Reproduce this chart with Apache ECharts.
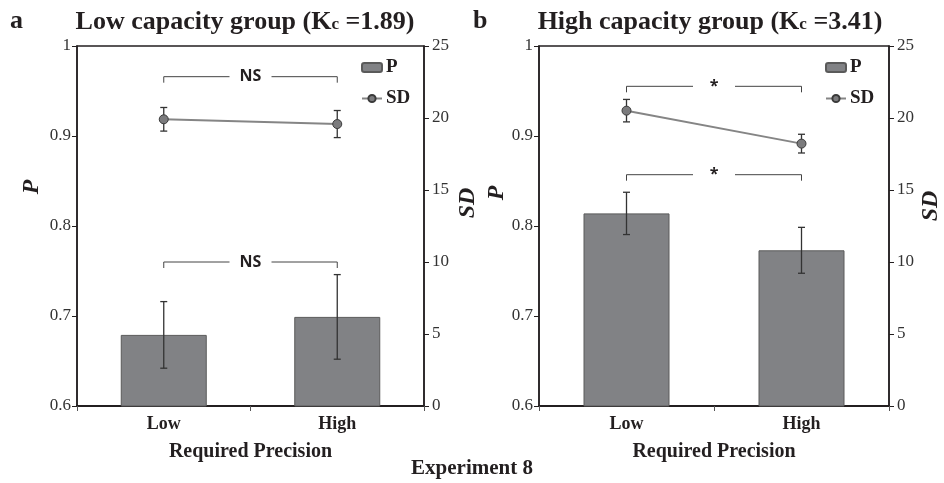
<!DOCTYPE html>
<html><head><meta charset="utf-8">
<script src="https://cdn.jsdelivr.net/npm/echarts@6/dist/echarts.min.js"></script>
<style>html,body{margin:0;padding:0;background:#fff}#c{width:944px;height:483px}</style>
</head><body><div id="c"></div>
<script>
// ---- data ----
const categories = ['Low', 'High'];
const pA = [0.679, 0.699];
const pErrA = [0.037, 0.047];
const sdA = [19.91, 19.58];
const sdErrA = [0.82, 0.94];
const pB = [0.814, 0.773];
const pErrB = [0.0235, 0.0255];
const sdB = [20.51, 18.22];
const sdErrB = [0.78, 0.65];
const pTickLabels = ['0.6', '0.7', '0.8', '0.9', '1'];
const sdTickLabels = ['0', '5', '10', '15', '20', '25'];
// significance brackets: [level on SD axis, level on P axis]
const bracketSdA = 22.87, bracketPA = 0.760, bracketTextA = ['NS', 'NS'];
const bracketSdB = 22.2, bracketPB = 0.857, bracketTextB = ['*', '*'];

const SERIF = '"Liberation Serif", "Times New Roman", serif';
const INK = '#231f20';

function pAxis(gi) {
  return {
    type: 'value', gridIndex: gi, position: 'left', min: 0.6, max: 1, interval: 0.1,
    axisLine: { show: true, lineStyle: { color: INK, width: 1.5 } },
    axisTick: { show: true, length: 5, lineStyle: { color: INK } },
    splitLine: { show: false },
    axisLabel: { fontFamily: SERIF, fontSize: 17, color: '#333', margin: 6,
      formatter: v => pTickLabels[Math.round((v - 0.6) * 10)] }
  };
}
function sdAxis(gi) {
  return {
    type: 'value', gridIndex: gi, position: 'right', min: 0, max: 25, interval: 5,
    axisLine: { show: true, lineStyle: { color: INK, width: 1.5 } },
    axisTick: { show: true, length: 5, lineStyle: { color: INK } },
    splitLine: { show: false },
    axisLabel: { fontFamily: SERIF, fontSize: 17, color: '#333', margin: 8,
      formatter: v => sdTickLabels[Math.round(v / 5)] }
  };
}
function xAxis(gi) {
  return {
    type: 'category', gridIndex: gi, data: categories,
    axisLine: { show: true, lineStyle: { color: INK, width: 2 } },
    axisTick: { show: true, length: 5, lineStyle: { color: '#555' } },
    axisLabel: { fontFamily: SERIF, fontSize: 18, fontWeight: 'bold', color: INK, margin: 9 },
    name: 'Required Precision', nameLocation: 'middle', nameGap: 36,
    nameTextStyle: { fontFamily: SERIF, fontSize: 20, fontWeight: 'bold', color: INK }
  };
}
function barSeries(name, xi, yi, vals) {
  return { name, type: 'bar', xAxisIndex: xi, yAxisIndex: yi, data: vals, barWidth: 86,
    itemStyle: { color: '#818285', borderColor: '#5a5a5a', borderWidth: 1 }, z: 2, animation: false };
}
function lineSeries(name, xi, yi, vals) {
  return { name, type: 'line', xAxisIndex: xi, yAxisIndex: yi, data: vals,
    symbol: 'circle', symbolSize: 9,
    lineStyle: { color: '#858585', width: 2 },
    itemStyle: { color: '#7b7b7d', borderColor: '#3a3a3a', borderWidth: 1 }, z: 6, animation: false };
}
function errSeries(xi, yi, vals, errs) {
  return { type: 'custom', xAxisIndex: xi, yAxisIndex: yi, z: 5, animation: false,
    data: vals.map((v, i) => [i, v, errs[i]]),
    renderItem(params, api) {
      const x = api.value(0), v = api.value(1), e = api.value(2);
      const t = api.coord([x, v + e]), b = api.coord([x, v - e]);
      const w = 3.5, st = { stroke: '#333', lineWidth: 1.3 };
      return { type: 'group', children: [
        { type: 'line', shape: { x1: t[0], y1: t[1], x2: b[0], y2: b[1] }, style: st },
        { type: 'line', shape: { x1: t[0] - w, y1: t[1], x2: t[0] + w, y2: t[1] }, style: st },
        { type: 'line', shape: { x1: b[0] - w, y1: b[1], x2: b[0] + w, y2: b[1] }, style: st }
      ]};
    } };
}
function bracketSeries(xi, yi, level, text) {
  return { type: 'custom', xAxisIndex: xi, yAxisIndex: yi, z: 7, animation: false, silent: true,
    data: [[0, 1, level]],
    renderItem(params, api) {
      const p0 = api.coord([api.value(0), api.value(2)]);
      const p1 = api.coord([api.value(1), api.value(2)]);
      const mid = (p0[0] + p1[0]) / 2, y = p0[1], gap = 21, drop = 6;
      const st = { stroke: '#444', lineWidth: 1, fill: null };
      return { type: 'group', children: [
        { type: 'polyline', shape: { points: [[p0[0], y + drop], [p0[0], y], [mid - gap, y]] }, style: st },
        { type: 'polyline', shape: { points: [[mid + gap, y], [p1[0], y], [p1[0], y + drop]] }, style: st },
        { type: 'text', x: mid, y: y, style: { text: text, align: 'center', verticalAlign: 'middle',
          font: 'bold 16px "Open Sans", "DejaVu Sans", sans-serif', fill: INK } }
      ]};
    } };
}
function legend(left) {
  return { left, top: 53, orient: 'vertical', itemWidth: 20, itemHeight: 9, itemGap: 12,
    data: ['P', 'SD'], selectedMode: false,
    textStyle: { fontFamily: SERIF, fontSize: 19, fontWeight: 'bold', color: INK, padding: [0, 0, 0, -1] } };
}
function axisName(text, x, y) {
  return { type: 'text', x, y, rotation: Math.PI / 2,
    style: { text, align: 'center', verticalAlign: 'middle', font: 'italic bold 24px ' + SERIF, fill: INK } };
}

const chart = echarts.init(document.getElementById('c'), null, { renderer: 'canvas' });
chart.setOption({
  animation: false,
  backgroundColor: '#fff',
  grid: [
    { left: 77, top: 46, width: 347, height: 360, show: true, borderColor: INK, borderWidth: 1.5, backgroundColor: 'transparent' },
    { left: 539, top: 46, width: 350, height: 360, show: true, borderColor: INK, borderWidth: 1.5, backgroundColor: 'transparent' }
  ],
  legend: [legend(356), legend(820)],
  xAxis: [xAxis(0), xAxis(1)],
  yAxis: [pAxis(0), sdAxis(0), pAxis(1), sdAxis(1)],
  series: [
    barSeries('P', 0, 0, pA),
    errSeries(0, 0, pA, pErrA),
    lineSeries('SD', 0, 1, sdA),
    errSeries(0, 1, sdA, sdErrA),
    bracketSeries(0, 1, bracketSdA, bracketTextA[0]),
    bracketSeries(0, 0, bracketPA, bracketTextA[1]),
    barSeries('P', 1, 2, pB),
    errSeries(1, 2, pB, pErrB),
    lineSeries('SD', 1, 3, sdB),
    errSeries(1, 3, sdB, sdErrB),
    bracketSeries(1, 3, bracketSdB, bracketTextB[0]),
    bracketSeries(1, 2, bracketPB, bracketTextB[1])
  ],
  graphic: [
    { type: 'text', left: 10, top: 8, style: { text: 'a', font: 'bold 26px ' + SERIF, fill: INK } },
    { type: 'text', x: 245, y: 22, style: { text: 'Low capacity group (K{s|c} =1.89)', align: 'center', verticalAlign: 'middle',
      font: 'bold 26px ' + SERIF, fill: INK, rich: { s: { fontSize: 17, fontWeight: 'bold', fontFamily: SERIF, fill: INK, padding: [6, 0, 0, 0] } } } },
    { type: 'text', left: 473, top: 8, style: { text: 'b', font: 'bold 26px ' + SERIF, fill: INK } },
    { type: 'text', x: 710, y: 22, style: { text: 'High capacity group (K{s|c} =3.41)', align: 'center', verticalAlign: 'middle',
      font: 'bold 26px ' + SERIF, fill: INK, rich: { s: { fontSize: 17, fontWeight: 'bold', fontFamily: SERIF, fill: INK, padding: [6, 0, 0, 0] } } } },
    { type: 'text', x: 472, y: 469, style: { text: 'Experiment 8', align: 'center', verticalAlign: 'middle',
      font: 'bold 21px ' + SERIF, fill: INK } },
    axisName('P', 32, 187),
    axisName('SD', 468, 203),
    axisName('P', 497, 193),
    axisName('SD', 931, 206)
  ]
});
</script></body></html>
